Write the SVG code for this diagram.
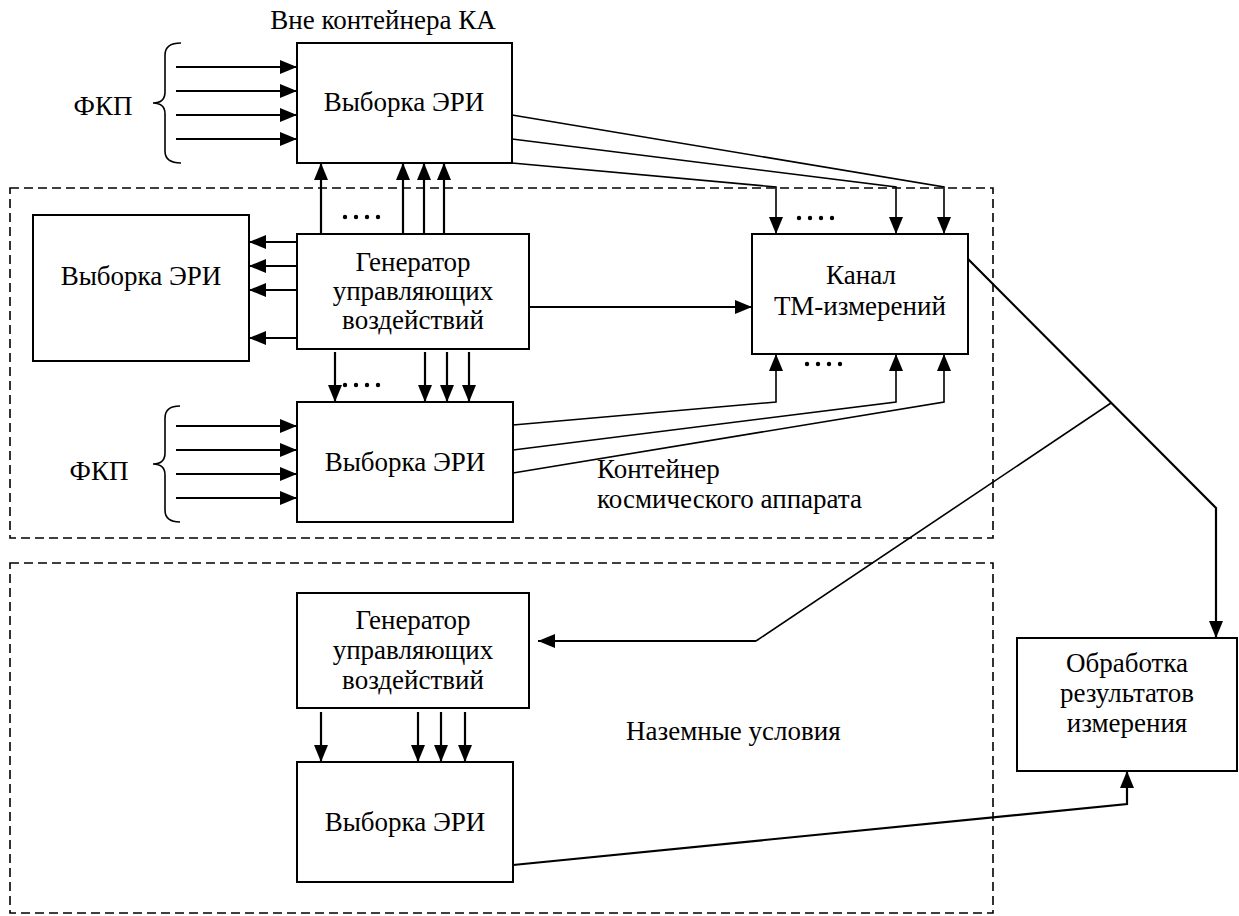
<svg xmlns="http://www.w3.org/2000/svg" width="1239" height="916" viewBox="0 0 1239 916">
<style>
.box{fill:#fff;stroke:#000;stroke-width:2}
.t{font-family:"Liberation Serif","DejaVu Serif",serif;font-size:27px;fill:#000}
.m{text-anchor:middle}
.ln{fill:none;stroke:#000;stroke-width:2.2}
.th{fill:none;stroke:#000;stroke-width:1.6}
.dash{fill:none;stroke:#000;stroke-width:1.6;stroke-dasharray:9 5}
.ar{marker-end:url(#ah)}
</style>
<defs>
<marker id="ah" markerUnits="userSpaceOnUse" markerWidth="18" markerHeight="15" refX="17" refY="7" orient="auto">
<path d="M0,0 L17,7 L0,14 Z" fill="#000"/>
</marker>
</defs>
<rect id="zone-container" class="dash" x="10" y="188" width="983" height="350"/>
<rect id="zone-ground" class="dash" x="10" y="563" width="983" height="350"/>
<text class="t m" x="383" y="29">Вне контейнера КА</text>
<text class="t" x="597" y="478">Контейнер</text>
<text class="t" x="597" y="508">космического аппарата</text>
<text class="t" x="626" y="740">Наземные условия</text>
<g id="fkp-top">
<text class="t m" x="103" y="115">ФКП</text>
<path class="th" d="M181,43 Q165,43 165,55 L165,92 Q165,103 153,103 Q165,103 165,114 L165,151 Q165,163 181,163"/>
</g>
<g id="fkp-bottom">
<text class="t m" x="99" y="480">ФКП</text>
<path class="th" d="M180,406 Q165,406 165,418 L165,453 Q165,464 153,464 Q165,464 165,475 L165,510 Q165,522 180,522"/>
</g>
<g id="eri-outside">
<rect class="box" x="297" y="43" width="215" height="120"/>
<text class="t m" x="404" y="111">Выборка ЭРИ</text>
</g>
<g id="eri-left">
<rect class="box" x="33" y="215" width="216" height="146"/>
<text class="t m" x="141" y="285">Выборка ЭРИ</text>
</g>
<g id="gen-space">
<rect class="box" x="297" y="234" width="232" height="115"/>
<text class="t m" x="413" y="271">Генератор</text>
<text class="t m" x="413" y="300">управляющих</text>
<text class="t m" x="413" y="329">воздействий</text>
</g>
<g id="eri-inside">
<rect class="box" x="297" y="402" width="216" height="120"/>
<text class="t m" x="405" y="471">Выборка ЭРИ</text>
</g>
<g id="tm-channel">
<rect class="box" x="752" y="234" width="216" height="120"/>
<text class="t m" x="861" y="284">Канал</text>
<text class="t m" x="860" y="315">ТМ-измерений</text>
</g>
<g id="gen-ground">
<rect class="box" x="297" y="593" width="232" height="115"/>
<text class="t m" x="413" y="629">Генератор</text>
<text class="t m" x="413" y="659">управляющих</text>
<text class="t m" x="413" y="689">воздействий</text>
</g>
<g id="eri-ground">
<rect class="box" x="297" y="762" width="216" height="120"/>
<text class="t m" x="405" y="831">Выборка ЭРИ</text>
</g>
<g id="processing">
<rect class="box" x="1017" y="638" width="220" height="133"/>
<text class="t m" x="1127" y="672">Обработка</text>
<text class="t m" x="1127" y="702">результатов</text>
<text class="t m" x="1127" y="732">измерения</text>
</g>
<g id="connectors">
<path class="ln ar" d="M176,67 H297"/>
<path class="ln ar" d="M176,91 H297"/>
<path class="ln ar" d="M176,115 H297"/>
<path class="ln ar" d="M176,139 H297"/>
<path class="ln ar" d="M176,426 H297"/>
<path class="ln ar" d="M176,450 H297"/>
<path class="ln ar" d="M176,474 H297"/>
<path class="ln ar" d="M176,498 H297"/>
<path class="ln ar" d="M321,234 V163"/>
<path class="ln ar" d="M403,234 V163"/>
<path class="ln ar" d="M424,234 V163"/>
<path class="ln ar" d="M444,234 V163"/>
<path class="ln ar" d="M297,242 H249"/>
<path class="ln ar" d="M297,266 H249"/>
<path class="ln ar" d="M297,290 H249"/>
<path class="ln ar" d="M297,338 H249"/>
<path class="ln ar" d="M335,352 V402"/>
<path class="ln ar" d="M425,352 V402"/>
<path class="ln ar" d="M447,352 V402"/>
<path class="ln ar" d="M469,352 V402"/>
<path class="ln ar" d="M529,307 H752"/>
<path class="th ar" d="M512,115 L944,187 V234"/>
<path class="th ar" d="M512,139 L896,187 V234"/>
<path class="th ar" d="M512,163 L776,187 V234"/>
<path class="th ar" d="M513,425 L776,402 V354"/>
<path class="th ar" d="M513,450 L896,402 V354"/>
<path class="th ar" d="M513,473 L944,402 V354"/>
<path class="ln ar" d="M968,259 L1216,508 V638"/>
<path class="th" d="M1111,403 L756,641"/>
<path class="ln ar" d="M756,641 H538"/>
<path class="ln ar" d="M321,712 V762"/>
<path class="ln ar" d="M418,712 V762"/>
<path class="ln ar" d="M441,712 V762"/>
<path class="ln ar" d="M465,712 V762"/>
<path class="ln ar" d="M513,865 L1127,804 V771"/>
<g fill="#000">
<circle cx="345" cy="217" r="2.2"/><circle cx="356" cy="217" r="2.2"/><circle cx="367" cy="217" r="2.2"/><circle cx="378" cy="217" r="2.2"/>
<circle cx="345" cy="385" r="2.2"/><circle cx="356" cy="385" r="2.2"/><circle cx="367" cy="385" r="2.2"/><circle cx="378" cy="385" r="2.2"/>
<circle cx="799" cy="218" r="2.2"/><circle cx="810" cy="218" r="2.2"/><circle cx="821" cy="218" r="2.2"/><circle cx="832" cy="218" r="2.2"/>
<circle cx="807" cy="364" r="2.2"/><circle cx="818" cy="364" r="2.2"/><circle cx="829" cy="364" r="2.2"/><circle cx="840" cy="364" r="2.2"/>
</g>
</g>
</svg>
